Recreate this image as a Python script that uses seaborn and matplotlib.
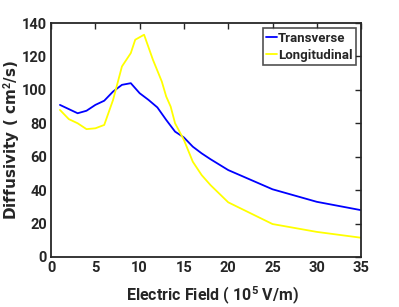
import matplotlib
matplotlib.use("Agg")
import matplotlib.pyplot as plt
import seaborn as sns
import pandas as pd

x_trans = [1, 2, 3, 4, 5, 6, 7, 8, 9, 10, 11, 12, 13, 14, 15, 16, 17, 18, 20, 25, 30, 35]
y_trans = [91, 88.5, 86, 87.5, 91, 93.5, 99, 103, 104, 98, 94, 89.5, 82, 75, 71.5, 66, 62, 58.5, 52, 40.5, 33, 28]
x_long = [1, 2, 3, 4, 5, 6, 7, 8, 9, 9.5, 10.5, 11.5, 12.5, 13, 13.5, 14, 15, 16, 17, 18, 20, 25, 30, 35]
y_long = [88, 82.5, 80, 76.5, 77, 79, 94, 114, 122, 130, 133, 118, 105, 96, 90, 80, 70, 57, 49, 43, 32.7, 19.7, 15, 11.5]

sns.set_style("white")
plt.rcParams['font.family'] = ['Roboto', 'DejaVu Sans']
plt.rcParams['font.weight'] = 'bold'
plt.rcParams['mathtext.fontset'] = 'custom'
plt.rcParams['mathtext.rm'] = 'Roboto:bold'
plt.rcParams['mathtext.default'] = 'rm'

fig = plt.figure(figsize=(3.99, 3.07), dpi=100)
ax = fig.add_axes([0.128, 0.163, 0.777, 0.762])

df_t = pd.DataFrame({"x": x_trans, "y": y_trans})
df_l = pd.DataFrame({"x": x_long, "y": y_long})
sns.lineplot(data=df_t, x="x", y="y", ax=ax, color="#0000ff", lw=1.3, label="Transverse")
sns.lineplot(data=df_l, x="x", y="y", ax=ax, color="#ffff00", lw=1.3, label="Longitudinal")

ax.set_xlim(0, 35)
ax.set_ylim(0, 140)
ax.set_xticks(range(0, 36, 5))
ax.set_yticks(range(0, 141, 20))
ax.tick_params(direction="in", length=4, width=1, labelsize=10.5, colors="#262626", top=True, right=True, pad=3)
for lbl in ax.get_xticklabels() + ax.get_yticklabels():
    lbl.set_fontweight("bold")
for s in ax.spines.values():
    s.set_color("#262626")
    s.set_linewidth(1.3)
    s.set_visible(True)

ax.set_xlabel("Electric Field ( 10$^5$ V/m)", fontsize=11.5, fontweight="bold", color="#262626")
ax.xaxis.set_label_coords(0.52, -0.12)
ax.set_ylabel("Diffusivity ( cm$^2$/s)", fontsize=11, fontweight="bold", color="#262626",
              family=["DejaVu Sans"])
ax.yaxis.set_label_coords(-0.094, 0.5)

leg = ax.legend(loc="upper right", frameon=True, fancybox=False, handlelength=0.8,
                handletextpad=0.1, borderpad=0.25, labelspacing=0.3, borderaxespad=0.4,
                prop={"weight": "bold", "size": 9.5, "family": ["Roboto"]})
leg.get_frame().set_edgecolor("#262626")
leg.get_frame().set_linewidth(1.2)

fig.savefig("out.png", dpi=100)
